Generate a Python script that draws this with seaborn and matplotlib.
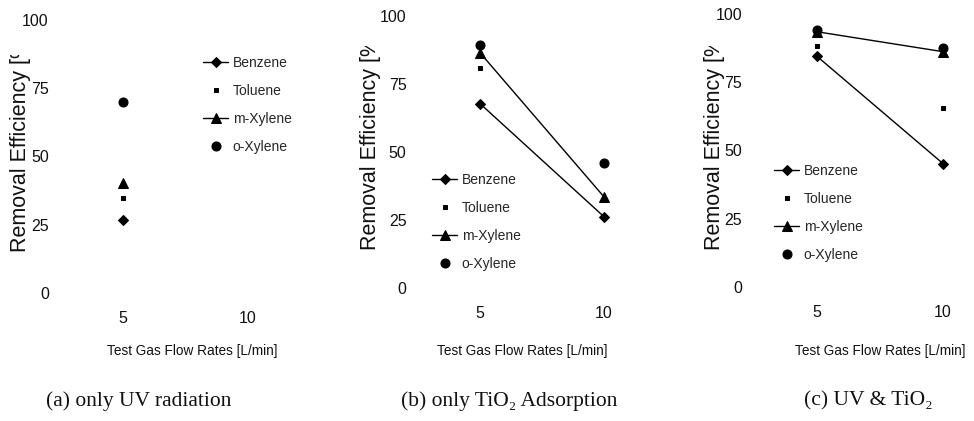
"""Removal efficiency of VOCs vs. test gas flow rate, three treatment cases."""

import matplotlib
matplotlib.use("Agg")

import matplotlib.pyplot as plt
import numpy as np
import pandas as pd
import seaborn as sns
from matplotlib.transforms import Bbox

# ---- data ----------------------------------------------------------------
flow_rates = [5, 10]
compounds = ["Benzene", "Toluene", "m-Xylene", "o-Xylene"]

# (a) only UV radiation -- measured at 5 L/min only
uv_benzene = [26.7, np.nan]
uv_toluene = [34.8, np.nan]
uv_mxylene = [40.3, np.nan]
uv_oxylene = [70.0, np.nan]

# (b) only TiO2 adsorption
tio2_benzene = [67.8, 26.2]
tio2_toluene = [81.0, np.nan]
tio2_mxylene = [86.5, 33.5]
tio2_oxylene = [89.5, 46.0]

# (c) UV & TiO2
both_benzene = [84.5, 45.2]
both_toluene = [88.2, 65.5]
both_mxylene = [93.5, 86.2]
both_oxylene = [94.2, 87.5]

captions = ["(a) only UV radiation", "(b) only TiO\u2082 Adsorption", "(c) UV & TiO\u2082"]
y_ticks = [0, 25, 50, 75, 100]
x_label = "Test Gas Flow Rates [L/min]"
y_label = "Removal Efficiency [%]"

panels = [
    [uv_benzene, uv_toluene, uv_mxylene, uv_oxylene],
    [tio2_benzene, tio2_toluene, tio2_mxylene, tio2_oxylene],
    [both_benzene, both_toluene, both_mxylene, both_oxylene],
]

# ---- styling / layout ----------------------------------------------------
W, H = 974, 421
SANS = ["Liberation Sans", "DejaVu Sans"]
SERIF = ["Liberation Serif", "DejaVu Serif"]

styles = {
    "Benzene": dict(marker="D", markersize=5.5, linestyle="-"),
    "Toluene": dict(marker="s", markersize=3.5, linestyle=""),
    "m-Xylene": dict(marker="^", markersize=6.5, linestyle="-"),
    "o-Xylene": dict(marker="o", markersize=6.5, linestyle=""),
}

# pixel anchors per panel: x of 5, x of 10, y of 0, y of 100
anchors = [
    (123, 248, 293, 20),
    (480, 604, 288, 16),
    (817, 943, 287, 14),
]
xlim = (2.2, 11.2)
ylim = (-5, 102)
ylabel_pos = [(31, 252, 55), (381, 250, 46), (725, 250, 46)]  # right x, bottom y, clip top
xlabel_pos = [(192, 344), (522, 344), (880, 344)]
caption_pos = [(139, 401), (509, 401), (868, 401)]
legend_pos = [(203, 56), (432, 173), (774, 164)]

sns.set_style("white")
fig = plt.figure(figsize=(W / 100, H / 100), dpi=100)

for i, series in enumerate(panels):
    x5, x10, y0, y100 = anchors[i]
    sx = (x10 - x5) / 5.0
    sy = (y0 - y100) / 100.0
    left = x5 - (5 - xlim[0]) * sx
    right = x5 + (xlim[1] - 5) * sx
    bottom = y0 - ylim[0] * sy
    top = y0 - ylim[1] * sy
    ax = fig.add_axes([left / W, 1 - bottom / H, (right - left) / W, (bottom - top) / H])

    for name, vals in zip(compounds, series):
        df = pd.DataFrame({"flow": flow_rates, "eff": vals}).dropna()
        sns.lineplot(data=df, x="flow", y="eff", ax=ax, color="black",
                     linewidth=1.0, label=name, markeredgecolor="black",
                     **styles[name])

    ax.set_xlim(*xlim)
    ax.set_ylim(*ylim)
    ax.set_xticks(flow_rates)
    ax.set_yticks(y_ticks)
    ax.tick_params(length=0, pad=3, labelsize=11.5, labelcolor="#111111")
    for lbl in ax.get_xticklabels() + ax.get_yticklabels():
        lbl.set_family(SANS)
    sns.despine(ax=ax, left=True, bottom=True)

    ax.set_xlabel(x_label, fontsize=9.8, family=SANS, color="#111111")
    ax.xaxis.set_label_coords(xlabel_pos[i][0] / W, 1 - xlabel_pos[i][1] / H,
                              transform=fig.transFigure)

    # the scanned label is cut off at the top, so clip it the same way
    rx, by, clip_top = ylabel_pos[i]
    ax.set_ylabel(y_label, fontsize=15.5, family=SANS, color="#111111")
    ax.yaxis.label.set_ha("left")
    ax.yaxis.set_label_coords(rx / W, 1 - by / H, transform=fig.transFigure)
    ax.yaxis.label.set_clip_box(Bbox.from_extents(0, 0, W, H - clip_top))
    ax.yaxis.label.set_clip_on(True)

    lx, ly = legend_pos[i]
    ax.legend(loc="upper left", bbox_to_anchor=(lx / W, 1 - ly / H),
              bbox_transform=fig.transFigure, frameon=False, borderpad=0,
              borderaxespad=0, labelspacing=1.0, handlelength=1.8,
              handletextpad=0.35, prop={"family": SANS, "size": 10})

    cx, cy = caption_pos[i]
    fig.text(cx / W, 1 - cy / H, captions[i], ha="center", va="center",
             fontsize=15.5, family=SERIF, color="#111111")

fig.savefig("out.png", dpi=100)
